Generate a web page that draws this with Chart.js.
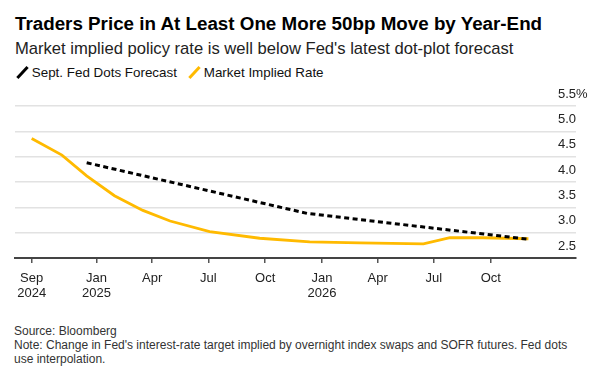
<!DOCTYPE html>
<html>
<head>
<meta charset="utf-8">
<script src="https://cdn.jsdelivr.net/npm/chart.js@4"></script>
<style>
  body { margin: 0; background: #fff; font-family: 'Liberation Sans', Arial, sans-serif; }
  #wrap { position: relative; width: 605px; height: 378px; overflow: hidden; }
  .txt { position: absolute; left: 15px; white-space: nowrap; }
  #title { top: 13px; font-size: 18.8px; line-height: 22px; font-weight: bold; color: #000; }
  #subtitle { top: 39px; font-size: 16.6px; line-height: 20px; color: #222; }
  #legend { top: 65px; font-size: 13.4px; line-height: 16px; color: #111; }
  .key { display: inline-block; width: 2.8px; height: 15px; transform: rotate(43deg); vertical-align: -3px; margin: 0 8px 0 6px; }
  #notes { top: 324px; left: 14px; font-size: 12px; line-height: 14px; color: #333; }
  #chart { position: absolute; left: 0; top: 80px; }
</style>
</head>
<body>
<div id="wrap">
  <div class="txt" id="title">Traders Price in At Least One More 50bp Move by Year-End</div>
  <div class="txt" id="subtitle">Market implied policy rate is well below Fed's latest dot-plot forecast</div>
  <div class="txt" id="legend"><span class="key" style="background:#000"></span>Sept. Fed Dots Forecast<span class="key" style="background:#ffba00; margin-left:16px"></span>Market Implied Rate</div>
  <canvas id="chart" width="605" height="230"></canvas>
  <div class="txt" id="notes">Source: Bloomberg<br>Note: Change in Fed's interest-rate target implied by overnight index swaps and SOFR futures. Fed dots<br>use interpolation.</div>
</div>
<script>
// market implied rate (%)
const marketDates = ['2024-09-18', '2024-11-06', '2024-12-16', '2025-01-30', '2025-03-17', '2025-04-30',
  '2025-07-03', '2025-09-22', '2025-12-12', '2026-03-03', '2026-06-14', '2026-07-27', '2026-09-18', '2026-12-01'];
const marketRate = [4.86, 4.53, 4.12, 3.73, 3.44, 3.23, 3.02, 2.89, 2.82, 2.80, 2.78, 2.90, 2.90, 2.88];

// Sept. Fed dots (year-end medians)
const dotsDates = ['2024-12-16', '2025-12-08', '2026-12-01'];
const dotsRate = [4.38, 3.38, 2.87];

// x axis ticks
const tickDates = ['2024-09-18', '2025-01-01', '2025-04-01', '2025-07-01', '2025-10-01',
  '2026-01-01', '2026-04-01', '2026-07-01', '2026-10-01'];
const tickLabels = [['Sep', '2024'], ['Jan', '2025'], 'Apr', 'Jul', 'Oct', ['Jan', '2026'], 'Apr', 'Jul', 'Oct'];

const yTicks = [2.5, 3.0, 3.5, 4.0, 4.5, 5.0, 5.5];

const ts = d => Date.parse(d + 'T00:00:00Z');
const tickTs = tickDates.map(ts);

const ctx = document.getElementById('chart').getContext('2d');
new Chart(ctx, {
  type: 'line',
  data: {
    datasets: [
      {
        label: 'Sept. Fed Dots Forecast',
        data: dotsDates.map((d, i) => ({ x: ts(d), y: dotsRate[i] })),
        borderColor: '#000',
        borderWidth: 3,
        borderDash: [5, 3.5],
        pointRadius: 0,
        fill: false
      },
      {
        label: 'Market Implied Rate',
        data: marketDates.map((d, i) => ({ x: ts(d), y: marketRate[i] })),
        borderColor: '#ffba00',
        borderWidth: 2.8,
        pointRadius: 0,
        fill: false
      }
    ]
  },
  options: {
    responsive: false,
    animation: false,
    devicePixelRatio: 1,
    layout: { padding: { top: 26, left: 15, right: 29, bottom: 1 } },
    plugins: { legend: { display: false }, title: { display: false }, tooltip: { enabled: false } },
    scales: {
      x: {
        type: 'linear',
        min: ts('2024-08-22'),
        max: ts('2027-02-16'),
        afterBuildTicks: axis => { axis.ticks = tickTs.map(v => ({ value: v })); },
        grid: { drawOnChartArea: false, drawTicks: true, tickLength: 5, color: '#555', lineWidth: 1.5 },
        border: { display: true, color: '#444', width: 2 },
        ticks: {
          autoSkip: false,
          maxRotation: 0,
          padding: 8,
          color: '#222',
          font: { family: "'Liberation Sans', Arial, sans-serif", size: 13, lineHeight: '15px' },
          callback: v => tickLabels[tickTs.indexOf(v)]
        }
      },
      y: {
        position: 'right',
        min: 2.5,
        max: 5.5,
        afterBuildTicks: axis => { axis.ticks = yTicks.map(v => ({ value: v })); },
        afterFit: axis => { axis.width = 0; },
        grid: { drawTicks: false, color: '#e2e2e2', lineWidth: 1.5 },
        border: { display: false },
        ticks: {
          mirror: true,
          crossAlign: 'far',
          padding: 11.6,
          labelOffset: -12,
          color: '#222',
          font: { family: "'Liberation Sans', Arial, sans-serif", size: 13 },
          callback: v => v === 5.5 ? '5.5%' : v.toFixed(1)
        }
      }
    }
  }
});
</script>
</body>
</html>
